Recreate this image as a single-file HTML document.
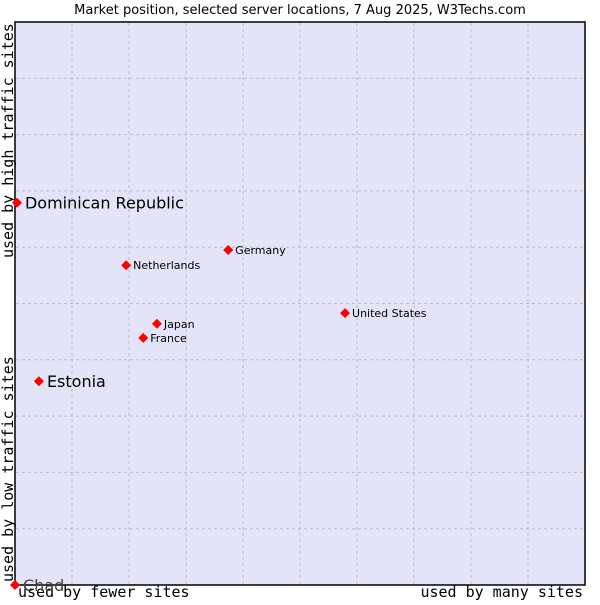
<!DOCTYPE html>
<html><head><meta charset="utf-8"><style>
body{margin:0;background:#fff;width:600px;height:600px;overflow:hidden}
svg text{font-family:"DejaVu Sans","Liberation Sans",sans-serif}
.mono{font-family:"DejaVu Sans Mono","Liberation Mono",monospace}
</style></head><body>
<svg id="chart" width="600" height="600" xmlns="http://www.w3.org/2000/svg">
<text x="300" y="14" text-anchor="middle" font-size="13" fill="#000">Market position, selected server locations, 7 Aug 2025, W3Techs.com</text>
<rect x="15" y="22" width="570" height="563" fill="#e3e4f8" stroke="#000" stroke-width="1.5"/>
<g id="grid"></g>
<text class="mono" x="18" y="597" font-size="15">used by fewer sites</text>
<text class="mono" x="583" y="597" font-size="15" text-anchor="end">used by many sites</text>
<text class="mono" transform="translate(13,582) rotate(-90)" font-size="15">used by low traffic sites</text>
<text class="mono" transform="translate(13,258) rotate(-90)" font-size="15">used by high traffic sites</text>
<g id="points"></g>
</svg>
<script>
const names=["Dominican Republic","Estonia","Chad","Netherlands","Germany","Japan","France","United States"];
const xVals=[0.35,4.2,0,19.5,37.4,24.9,22.5,57.9];
const yVals=[67.9,36.2,0,56.8,59.5,46.4,43.9,48.3];
const highlighted=[true,true,true,false,false,false,false,false];
const NS="http://www.w3.org/2000/svg";
const X=v=>15+v/100*570, Y=v=>585-v/100*563;
const g=document.getElementById('grid');
for(let i=1;i<10;i++){
  const l=document.createElementNS(NS,'line');
  
  
  l.setAttribute('x1',X(i*10));l.setAttribute('x2',X(i*10));l.setAttribute('y1',23);l.setAttribute('y2',584);
  l.setAttribute('stroke','#bbb');l.setAttribute('stroke-dasharray','3,3');g.appendChild(l);
  const h=document.createElementNS(NS,'line');
  
  
  h.setAttribute('y1',Y(i*10));h.setAttribute('y2',Y(i*10));h.setAttribute('x1',16);h.setAttribute('x2',584);
  h.setAttribute('stroke','#bbb');h.setAttribute('stroke-dasharray','3,3');g.appendChild(h);
}
const p=document.getElementById('points');
names.forEach((n,i)=>{
  const x=X(xVals[i]),y=Y(yVals[i]);
  const d=document.createElementNS(NS,'polygon');
  
  
  d.setAttribute('points',`${x},${y-5} ${x+5},${y} ${x},${y+5} ${x-5},${y}`);
  d.setAttribute('fill','#f00');p.appendChild(d);
  const t=document.createElementNS(NS,'text');
  
  
  const big=highlighted[i];
  t.setAttribute('x',x+(big?8:7));t.setAttribute('y',y+(big?6:4));
  t.setAttribute('font-size',big?16:11);
  t.setAttribute('fill',n==="Chad"?'#444':'#000');
  t.textContent=n;p.appendChild(t);
});
</script>
</body></html>
